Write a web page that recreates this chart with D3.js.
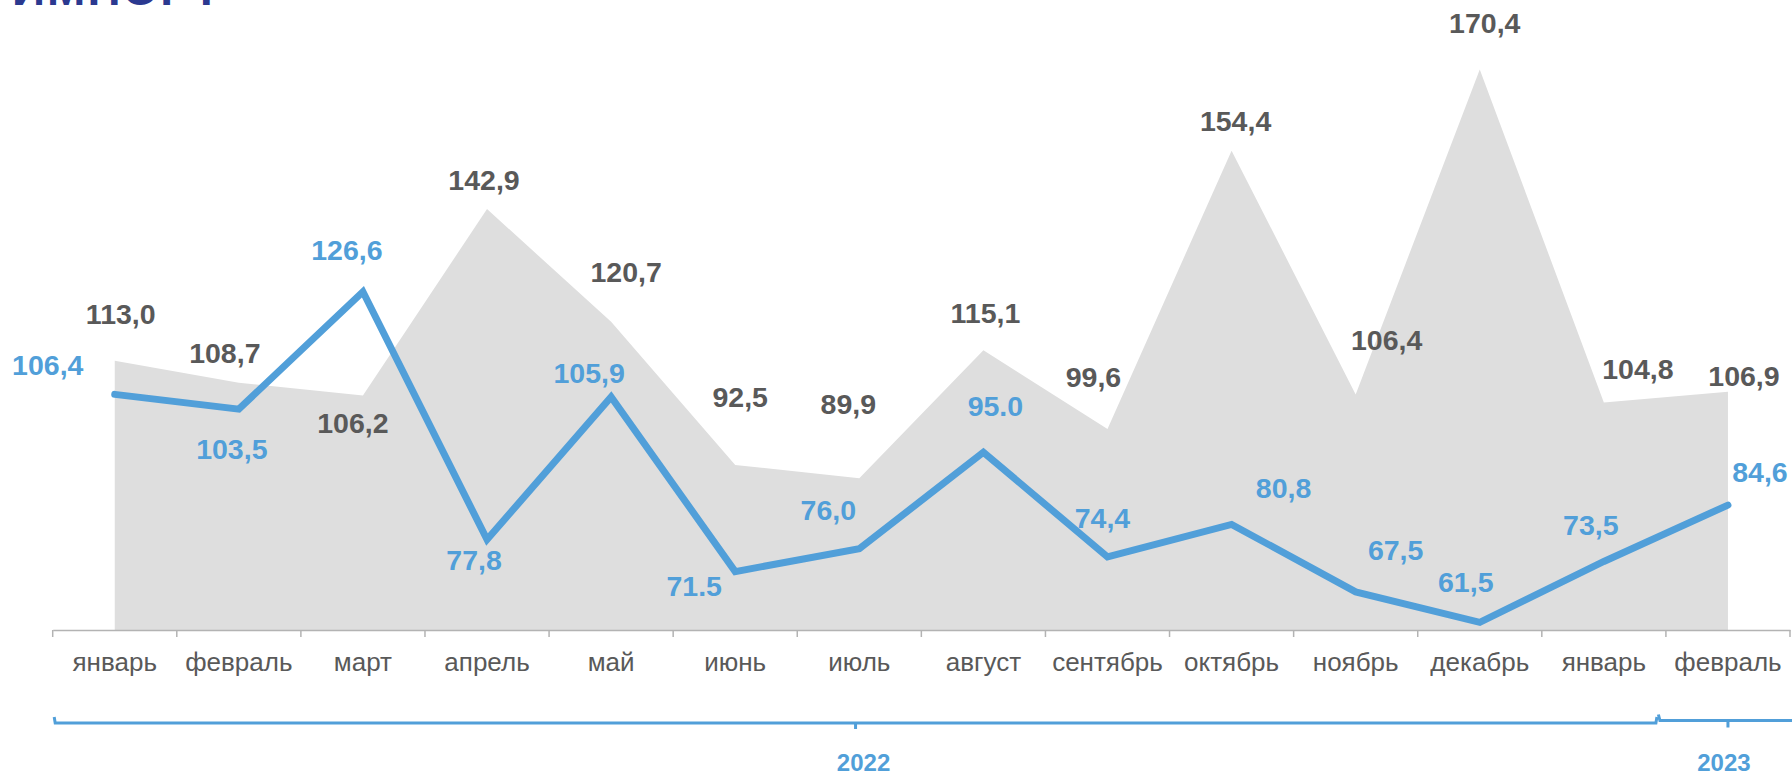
<!DOCTYPE html>
<html>
<head>
<meta charset="utf-8">
<script src="https://cdn.jsdelivr.net/npm/d3@7"></script>
<style>
  html, body { margin: 0; padding: 0; background: #ffffff; }
  svg { display: block; }
  text { font-family: "Liberation Sans", Arial, sans-serif; }
</style>
</head>
<body>
<svg id="chart" width="1792" height="775"></svg>
<script>
// ---- data ----
const months = ["январь","февраль","март","апрель","май","июнь","июль","август","сентябрь","октябрь","ноябрь","декабрь","январь","февраль"];
const grayValues = [113.0,108.7,106.2,142.9,120.7,92.5,89.9,115.1,99.6,154.4,106.4,170.4,104.8,106.9];
const grayLabels = ["113,0","108,7","106,2","142,9","120,7","92,5","89,9","115,1","99,6","154,4","106,4","170,4","104,8","106,9"];
const blueValues = [106.4,103.5,126.6,77.8,105.9,71.5,76.0,95.0,74.4,80.8,67.5,61.5,73.5,84.6];
const blueLabels = ["106,4","103,5","126,6","77,8","105,9","71.5","76,0","95.0","74,4","80,8","67,5","61,5","73,5","84,6"];
const years = ["2022","2023"];
const yDomain = [60, 180];
const titleText = "ИМПОРТ";

// ---- layout (label offsets from points, px) ----
const grayOffsets = [[6,-47],[-14,-30],[-10,28],[-3,-29],[15,-50],[5,-68],[-11,-74],[2,-37],[-14,-52],[4,-30],[31,-54],[5,-46],[34,-34],[16,-16]];
const blueOffsets = [[-67,-29],[-7,40],[-16,-42],[-13,20],[-22,-24],[-41,14],[-31,-39],[12,-46],[-5,-39],[52,-36],[40,-42],[-14,-40],[-13,-36],[32,-33]];

const svg = d3.select("#chart");
const axisY = 630;
const x = d3.scaleBand().domain(d3.range(months.length)).range([52.7, 1790]).padding(0);
const y = d3.scaleLinear().domain(yDomain).range([axisY, axisY - 120 * 5.078]);
const cx = i => x(i) + x.bandwidth() / 2;

const BLUE = "#519fd9", DARK = "#595959", AREA = "#dedede";

// title fragment (cut off at top, only the bottom few pixels show)
svg.append("text").attr("x", 12).attr("y", 5)
  .attr("font-size", 46).attr("font-weight", "bold").attr("fill", "#2b3990")
  .attr("letter-spacing", 2).text(titleText);

// area
const area = d3.area().x((d, i) => cx(i)).y0(axisY).y1(d => y(d));
svg.append("path").datum(grayValues).attr("d", area).attr("fill", AREA);

// axis
const axis = d3.axisBottom(x).tickSize(0).tickFormat(i => months[i]);
const gAxis = svg.append("g").attr("transform", `translate(0,${axisY})`).call(axis);
gAxis.select(".domain").attr("stroke", "#b3b3b3").attr("stroke-width", 1.5);
gAxis.selectAll(".tick text")
  .attr("y", 41).attr("dy", 0)
  .attr("font-size", 26).attr("fill", DARK)
  .attr("font-family", "Liberation Sans, Arial, sans-serif");
// boundary ticks
const bounds = d3.range(months.length + 1).map(i => i < months.length ? x(i) : x(months.length - 1) + x.bandwidth());
gAxis.selectAll(".bound").data(bounds).enter().append("line")
  .attr("x1", d => d).attr("x2", d => d).attr("y1", 0).attr("y2", 7)
  .attr("stroke", "#b3b3b3").attr("stroke-width", 1.5);

// blue line
const line = d3.line().x((d, i) => cx(i)).y(d => y(d));
svg.append("path").datum(blueValues).attr("d", line)
  .attr("fill", "none").attr("stroke", BLUE).attr("stroke-width", 7)
  .attr("stroke-linejoin", "miter").attr("stroke-linecap", "round");

// gray labels
svg.selectAll(".gl").data(grayValues).enter().append("text")
  .attr("x", (d, i) => cx(i) + grayOffsets[i][0])
  .attr("y", (d, i) => y(d) + grayOffsets[i][1] + 10)
  .attr("text-anchor", "middle").attr("font-size", 28.5).attr("font-weight", "bold")
  .attr("fill", DARK).text((d, i) => grayLabels[i]);

// blue labels
svg.selectAll(".bl").data(blueValues).enter().append("text")
  .attr("x", (d, i) => cx(i) + blueOffsets[i][0])
  .attr("y", (d, i) => y(d) + blueOffsets[i][1] + 10)
  .attr("text-anchor", "middle").attr("font-size", 28.5).attr("font-weight", "bold")
  .attr("fill", BLUE).text((d, i) => blueLabels[i]);

// year brackets
const b22s = x(0) + 1.5, b22e = x(12) + x.bandwidth() - 9;
const b23s = b22e + 1.5, b23e = 1795;
const by22 = 723, by23 = 720.5;
svg.append("path")
  .attr("d", `M${b22s},${by22 - 6} L${b22s + 1},${by22} L${b22e - 1},${by22} L${b22e},${by22 - 6}`)
  .attr("fill", "none").attr("stroke", BLUE).attr("stroke-width", 3);
svg.append("line").attr("x1", (b22s + b22e) / 2).attr("x2", (b22s + b22e) / 2)
  .attr("y1", by22).attr("y2", by22 + 6).attr("stroke", BLUE).attr("stroke-width", 3);
svg.append("path")
  .attr("d", `M${b23s},${by23 - 6} L${b23s + 1.5},${by23} L${b23e},${by23}`)
  .attr("fill", "none").attr("stroke", BLUE).attr("stroke-width", 3);
svg.append("line").attr("x1", cx(13)).attr("x2", cx(13))
  .attr("y1", by23).attr("y2", by23 + 7).attr("stroke", BLUE).attr("stroke-width", 3);

svg.append("text").attr("x", (b22s + b22e) / 2 + 8).attr("y", 771)
  .attr("text-anchor", "middle").attr("font-size", 24).attr("font-weight", "bold")
  .attr("fill", BLUE).text(years[0]);
svg.append("text").attr("x", cx(13) - 4).attr("y", 771)
  .attr("text-anchor", "middle").attr("font-size", 24).attr("font-weight", "bold")
  .attr("fill", BLUE).text(years[1]);
</script>
</body>
</html>
